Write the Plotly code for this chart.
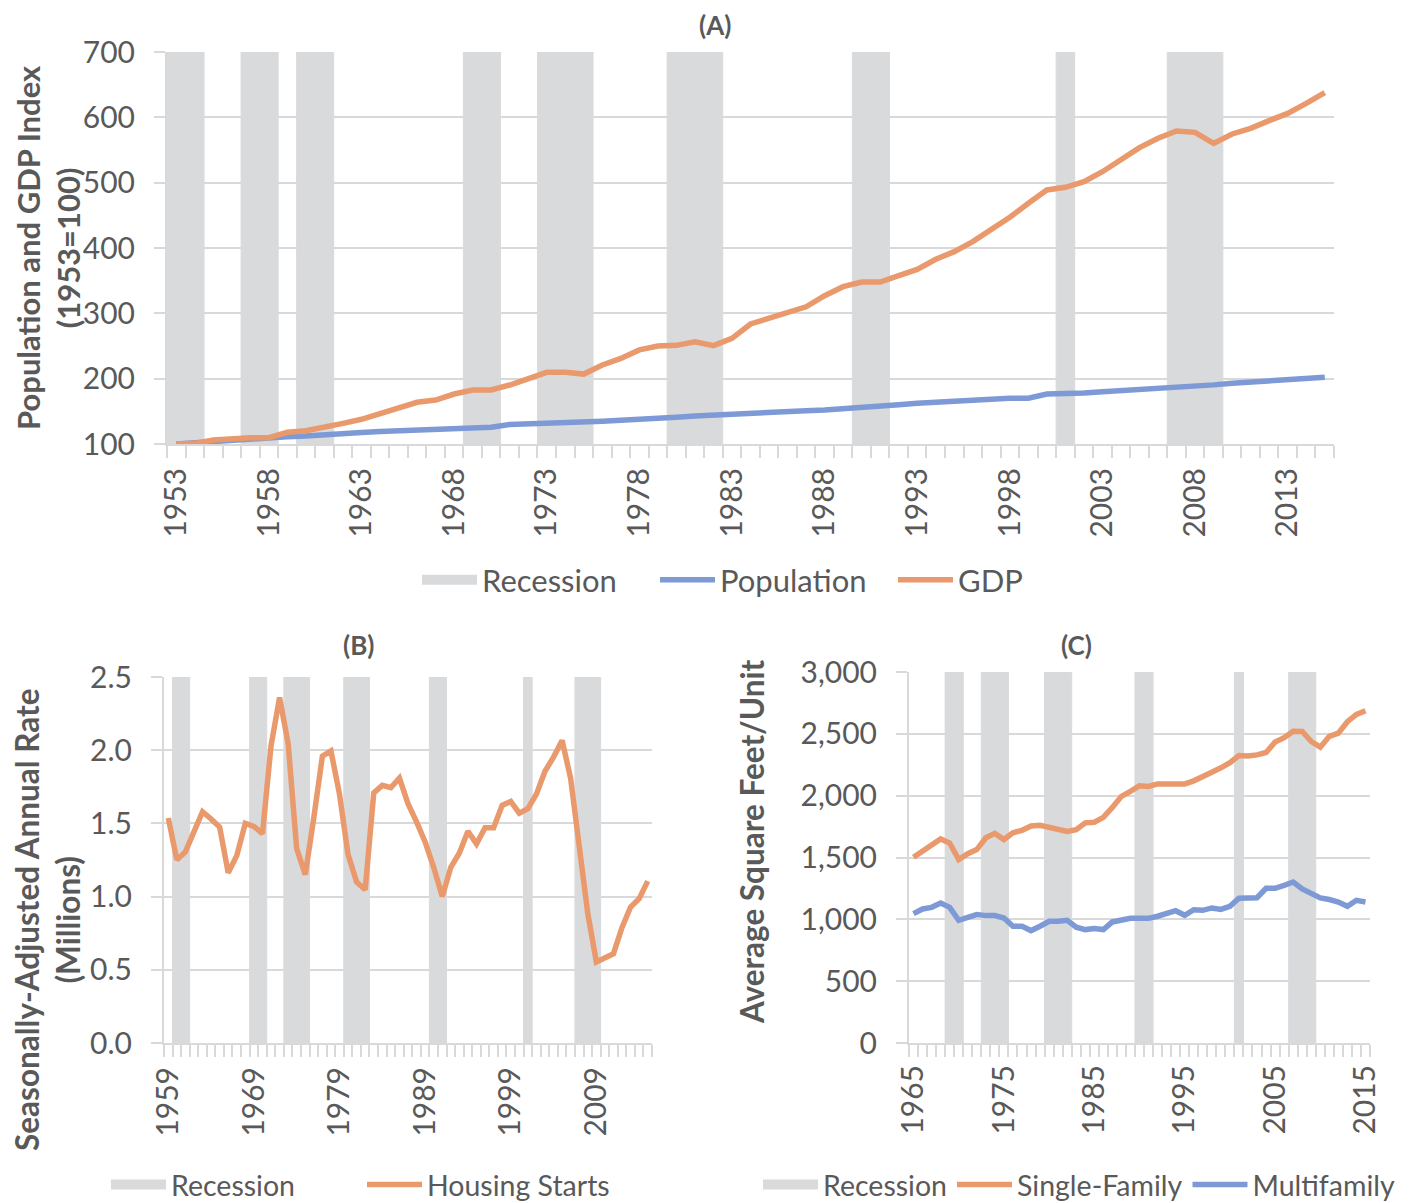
import plotly.graph_objects as go

# ---------------- data ----------------
years_a = list(range(1953, 2016))
population_index = [100, 102, 104.5, 106, 107.5, 108.7, 111, 112.2, 113.3, 115.5,
                    117.5, 119, 120, 121.4, 122.8, 123.5, 124.5, 125.5, 130, 130.6,
                    131.6, 132.1, 133.2, 135, 136.2, 137.2, 139, 140.8, 142.8, 144.4,
                    146.2, 147, 148.5, 150.4, 151, 152, 154.5, 156, 158.2, 160.2,
                    162.2, 163.3, 164.3, 166.3, 168.4, 169.9, 170, 176.5, 176.5, 178,
                    180, 181.6, 182.7, 184.6, 186.6, 188.6, 190.5, 193, 195, 197,
                    198.5, 200.5, 202]
gdp_index = [100, 101, 106, 108, 109.7, 109.7, 118, 120.4, 125, 131.6,
             137.8, 146, 154, 163.8, 167.3, 176.5, 182.7, 182.7, 190.3, 200.5,
             209.7, 209.7, 207, 221, 231, 244, 250, 251, 256.6, 250.5,
             261.7, 283.7, 292.3, 300, 310, 327, 340.8, 347.9, 347.9, 357.6,
             367.3, 382.7, 394.4, 409.7, 427.6, 447, 468.4, 488.8, 492.9, 501.5,
             516.8, 534.7, 553.6, 568, 579, 577, 560, 574.5, 583.2, 595,
             606, 621.4, 637.8]
recession_years_a = [1953, 1954, 1957, 1958, 1960, 1961, 1969, 1970, 1973, 1974, 1975,
                     1980, 1981, 1982, 1990, 1991, 2001, 2007, 2008, 2009]
tick_years_a = list(range(1953, 2016, 5))

years_b = list(range(1959, 2016))
housing_starts = [1.537, 1.252, 1.305, 1.44, 1.58, 1.53, 1.475, 1.163, 1.28, 1.50,
                  1.48, 1.43, 2.03, 2.36, 2.045, 1.327, 1.15, 1.54, 1.96, 1.995,
                  1.70, 1.287, 1.10, 1.047, 1.708, 1.76, 1.744, 1.81, 1.635, 1.51,
                  1.373, 1.20, 1.00, 1.20, 1.298, 1.446, 1.36, 1.47, 1.47, 1.623,
                  1.65, 1.57, 1.60, 1.70, 1.856, 1.953, 2.067, 1.806, 1.316, 0.884,
                  0.553, 0.58, 0.61, 0.79, 0.929, 0.986, 1.106]
recession_years_b = [1960, 1961, 1969, 1970, 1973, 1974, 1975, 1980, 1981, 1982,
                     1990, 1991, 2001, 2007, 2008, 2009]
tick_years_b = list(range(1959, 2016, 10))

years_c = list(range(1965, 2016))
single_family = [1502, 1550, 1596, 1650, 1617, 1483, 1531, 1564, 1660, 1695,
                 1645, 1700, 1720, 1755, 1760, 1740, 1720, 1710, 1725, 1780,
                 1785, 1825, 1905, 1995, 2035, 2080, 2075, 2095, 2095, 2100,
                 2095, 2120, 2150, 2190, 2225, 2266, 2324, 2320, 2330, 2349,
                 2434, 2469, 2521, 2519, 2438, 2392, 2480, 2505, 2598, 2657,
                 2687]
multifamily = [1046, 1084, 1097, 1132, 1097, 992, 1016, 1038, 1030, 1030,
               1011, 944, 944, 909, 944, 984, 984, 992, 936, 917,
               925, 917, 979, 998, 1008, 1008, 1008, 1025, 1043, 1070,
               1033, 1078, 1073, 1092, 1080, 1105, 1170, 1173, 1175, 1251,
               1251, 1275, 1302, 1246, 1213, 1173, 1160, 1140, 1105, 1154,
               1140]
recession_years_c = [1969, 1970, 1973, 1974, 1975, 1980, 1981, 1982, 1990, 1991,
                     2001, 2007, 2008, 2009]
tick_years_c = list(range(1965, 2016, 10))

recession_top_a = 700
recession_top_b = 2.5
recession_top_c = 3000

# ---------------- style ----------------
OFF = 8                      # page body margin of the html page
W, H = 1419 - OFF, 1203 - OFF
GRAY = "#D9DADC"
GRID = "#D9D9D9"
BLUE = "#7D9AD6"
ORANGE = "#E9996B"
TEXT = "#595959"
FONT = "Lato, Open Sans, sans-serif"
FS_TICK = 30
FS_TITLE = 31.5
FS_LEG_A = 31
FS_LEG_BC = 28.5
LW = 5.5


def px_x(a, b):
    return [(a - OFF) / W, (b - OFF) / W]


def px_y(top, bottom):
    return [1 - (bottom - OFF) / H, 1 - (top - OFF) / H]


def pxx(a):
    return (a - OFF) / W


def pxy(a):
    return 1 - (a - OFF) / H


def boundaries(years):
    return [y - 0.5 for y in years] + [years[-1] + 0.5]


def xaxis_style(domain, years, ticks, anchor, standoff):
    return dict(
        domain=domain, anchor=anchor,
        range=[years[0] - 0.5, years[-1] + 0.5],
        tickmode="array", tickvals=ticks, ticktext=[str(t) for t in ticks],
        ticks="", tickangle=-90, ticklabelstandoff=standoff,
        tickfont=dict(family=FONT, size=FS_TICK, color=TEXT),
        showgrid=False, zeroline=False,
        showline=True, linecolor=GRID, linewidth=2,
        minor=dict(tickmode="array", tickvals=boundaries(years), ticks="outside",
                   ticklen=12, tickcolor=GRID, tickwidth=2, showgrid=False),
        fixedrange=True,
    )


def yaxis_style(domain, rng, dtick, anchor, fmt):
    return dict(
        domain=domain, anchor=anchor, range=rng,
        tickmode="linear", tick0=rng[0], dtick=dtick, tickformat=fmt,
        showgrid=True, gridcolor=GRID, gridwidth=2,
        ticks="outside", ticklen=11, tickcolor=GRID, tickwidth=2,
        ticklabelstandoff=13,
        showline=True, linecolor=GRID, linewidth=2, zeroline=False,
        tickfont=dict(family=FONT, size=FS_TICK, color=TEXT),
        fixedrange=True,
    )


def recession_bars(years, top, xa, ya):
    return go.Bar(x=years, y=[top] * len(years), width=1,
                  marker=dict(color=GRAY, line=dict(color=GRAY, width=1)),
                  name="Recession", xaxis=xa, yaxis=ya, showlegend=False,
                  hoverinfo="skip")


def recession_key(xa, ya, leg):
    # legend entry only (no data drawn)
    return go.Scatter(x=[None], y=[None], mode="lines",
                      line=dict(color=GRAY, width=18), name="Recession",
                      xaxis=xa, yaxis=ya, legend=leg, hoverinfo="skip")


fig = go.Figure()

# ---------- Panel A ----------
fig.add_trace(recession_bars(recession_years_a, recession_top_a, "x", "y"))
fig.add_trace(recession_key("x", "y", "legend"))
fig.add_trace(go.Scatter(x=years_a, y=population_index, mode="lines",
                         line=dict(color=BLUE, width=LW), name="Population",
                         xaxis="x", yaxis="y", legend="legend"))
fig.add_trace(go.Scatter(x=years_a, y=gdp_index, mode="lines",
                         line=dict(color=ORANGE, width=LW), name="GDP",
                         xaxis="x", yaxis="y", legend="legend"))

# ---------- Panel B ----------
fig.add_trace(recession_bars(recession_years_b, recession_top_b, "x2", "y2"))
fig.add_trace(recession_key("x2", "y2", "legend2"))
fig.add_trace(go.Scatter(x=years_b, y=housing_starts, mode="lines",
                         line=dict(color=ORANGE, width=LW), name="Housing Starts",
                         xaxis="x2", yaxis="y2", legend="legend2"))

# ---------- Panel C ----------
fig.add_trace(recession_bars(recession_years_c, recession_top_c, "x3", "y3"))
fig.add_trace(recession_key("x3", "y3", "legend3"))
fig.add_trace(go.Scatter(x=years_c, y=single_family, mode="lines",
                         line=dict(color=ORANGE, width=LW), name="Single-Family",
                         xaxis="x3", yaxis="y3", legend="legend3"))
fig.add_trace(go.Scatter(x=years_c, y=multifamily, mode="lines",
                         line=dict(color=BLUE, width=LW), name="Multifamily",
                         xaxis="x3", yaxis="y3", legend="legend3"))

legend_common = dict(orientation="h", yanchor="middle", xanchor="center",
                     bgcolor="rgba(0,0,0,0)", itemwidth=55,
                     itemclick=False, itemdoubleclick=False)

panel_font = dict(family=FONT, size=26, color=TEXT, weight="bold")


def ytitle(text, x, y, size=FS_TITLE):
    return dict(text=text, x=pxx(x), y=pxy(y), xref="paper", yref="paper",
                textangle=-90, xanchor="center", yanchor="middle", align="center",
                showarrow=False,
                font=dict(family=FONT, size=size, color=TEXT, weight="bold"))


def panel_title(text, x, y):
    return dict(text=text, x=pxx(x), y=pxy(y), xref="paper", yref="paper",
                xanchor="center", yanchor="middle", showarrow=False, font=panel_font)


fig.update_layout(
    width=W, height=H,
    margin=dict(l=0, r=0, t=0, b=0, autoexpand=False),
    paper_bgcolor="white", plot_bgcolor="white",
    font=dict(family=FONT, color=TEXT),
    barmode="overlay",
    xaxis=xaxis_style(px_x(167, 1334), years_a, tick_years_a, "y", 10),
    yaxis=yaxis_style(px_y(52, 444), [100, 700], 100, "x", "d"),
    xaxis2=xaxis_style(px_x(164, 652), years_b, tick_years_b, "y2", 10),
    yaxis2=yaxis_style(px_y(677, 1043), [0, 2.5], 0.5, "x2", ".1f"),
    xaxis3=xaxis_style(px_x(909, 1370), years_c, tick_years_c, "y3", 8),
    yaxis3=yaxis_style(px_y(672, 1043), [0, 3000], 500, "x3", ",d"),
    legend=dict(legend_common, x=pxx(774), y=pxy(580), entrywidth=168,
                font=dict(family=FONT, size=FS_LEG_A, color=TEXT)),
    legend2=dict(legend_common, x=pxx(362), y=pxy(1185), entrywidth=186,
                 font=dict(family=FONT, size=FS_LEG_BC, color=TEXT)),
    legend3=dict(legend_common, x=pxx(1079), y=pxy(1185),
                 font=dict(family=FONT, size=FS_LEG_BC, color=TEXT)),
    annotations=[
        panel_title("(A)", 715, 25),
        panel_title("(B)", 358, 645),
        panel_title("(C)", 1076, 645),
        ytitle("Population and GDP Index<br>(1953=100)", 48, 248, 31),
        ytitle("Seasonally-Adjusted Annual Rate<br>(Millions)", 47, 920),
        ytitle("Average Square Feet/Unit", 752, 842),
    ],
    showlegend=True,
)

fig.write_html("out.html")
